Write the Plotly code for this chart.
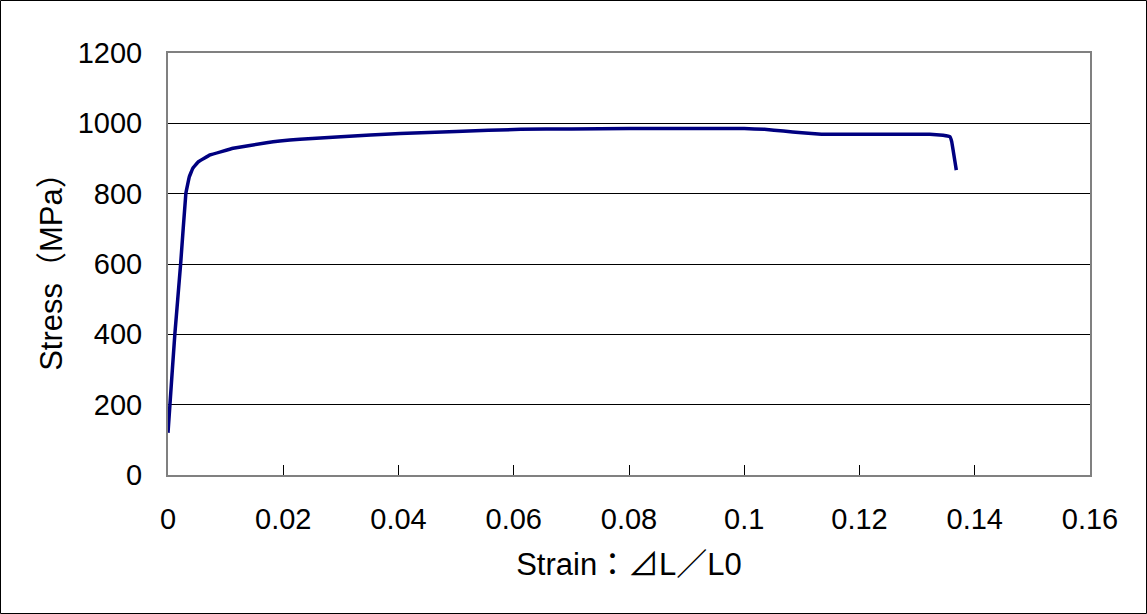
import plotly.graph_objects as go

# Data
strain = [0.0, 0.00035, 0.0012, 0.0022, 0.0031, 0.0037, 0.0043, 0.0053, 0.0073,
          0.0113, 0.0171, 0.0194, 0.0229, 0.030, 0.0403, 0.050, 0.0612, 0.070,
          0.080, 0.090, 0.100, 0.1035, 0.1068, 0.1100, 0.1134, 0.1200, 0.1280,
          0.1322, 0.1345, 0.1357, 0.1360, 0.1368]
stress = [120, 204, 403, 602, 801, 848, 872, 891, 910,
          929, 945, 950, 955, 962, 971, 977, 983, 984,
          985, 985, 985, 983, 978, 973, 969, 969, 969,
          969, 966, 962, 948, 867]

x_tickvals = [0, 0.02, 0.04, 0.06, 0.08, 0.1, 0.12, 0.14, 0.16]
x_ticktext = ["0", "0.02", "0.04", "0.06", "0.08", "0.1", "0.12", "0.14", "0.16"]
y_tickvals = [0, 200, 400, 600, 800, 1000, 1200]
y_ticktext = ["0", "200", "400", "600", "800", "1000", "1200"]

x_title = "Strain：⊿L／L0"
y_title = "Stress（MPa）"

W, H = 1147, 614
ML, MR, MT, MB = 168, 57, 53, 139
PW, PH = W - ML - MR, H - MT - MB

FONT = "Liberation Sans, Noto Sans CJK JP, sans-serif"

fig = go.Figure()
fig.add_trace(go.Scatter(
    x=strain, y=stress, mode="lines",
    line=dict(color="#000080", width=3.5, shape="spline", smoothing=0.15),
    showlegend=False, hoverinfo="skip",
))

fig.update_layout(
    width=W, height=H,
    margin=dict(l=ML, r=MR, t=MT, b=MB, autoexpand=False),
    paper_bgcolor="white", plot_bgcolor="white",
    font=dict(family=FONT, size=29, color="black"),
    shapes=[dict(
        type="rect", xref="paper", yref="paper",
        x0=(-ML + 0.5) / PW, x1=(PW + MR - 0.5) / PW,
        y0=(-MB + 0.5) / PH, y1=(PH + MT - 0.5) / PH,
        line=dict(color="black", width=1), layer="below",
    )],
)

fig.update_xaxes(
    range=[0, 0.16], tickvals=x_tickvals, ticktext=x_ticktext,
    showgrid=False, zeroline=False,
    showline=True, linecolor="#808080", linewidth=2, mirror=True,
    ticks="inside", ticklen=10, tickcolor="black", tickwidth=1,
    ticklabelstandoff=17,
    title=dict(text=x_title, standoff=20, font=dict(size=31)),
    automargin=False,
)
fig.update_yaxes(
    range=[0, 1200], tickvals=y_tickvals, ticktext=y_ticktext,
    showgrid=True, gridcolor="black", gridwidth=1, zeroline=False,
    showline=True, linecolor="#808080", linewidth=2, mirror=True,
    ticks="", ticklabelstandoff=18,
    title=dict(text=y_title, standoff=6, font=dict(size=31)),
    automargin=False,
)

fig.write_html(
    "out.html",
    config={"displayModeBar": False},
    post_script="document.body.style.margin='0';document.body.style.padding='0';",
)
